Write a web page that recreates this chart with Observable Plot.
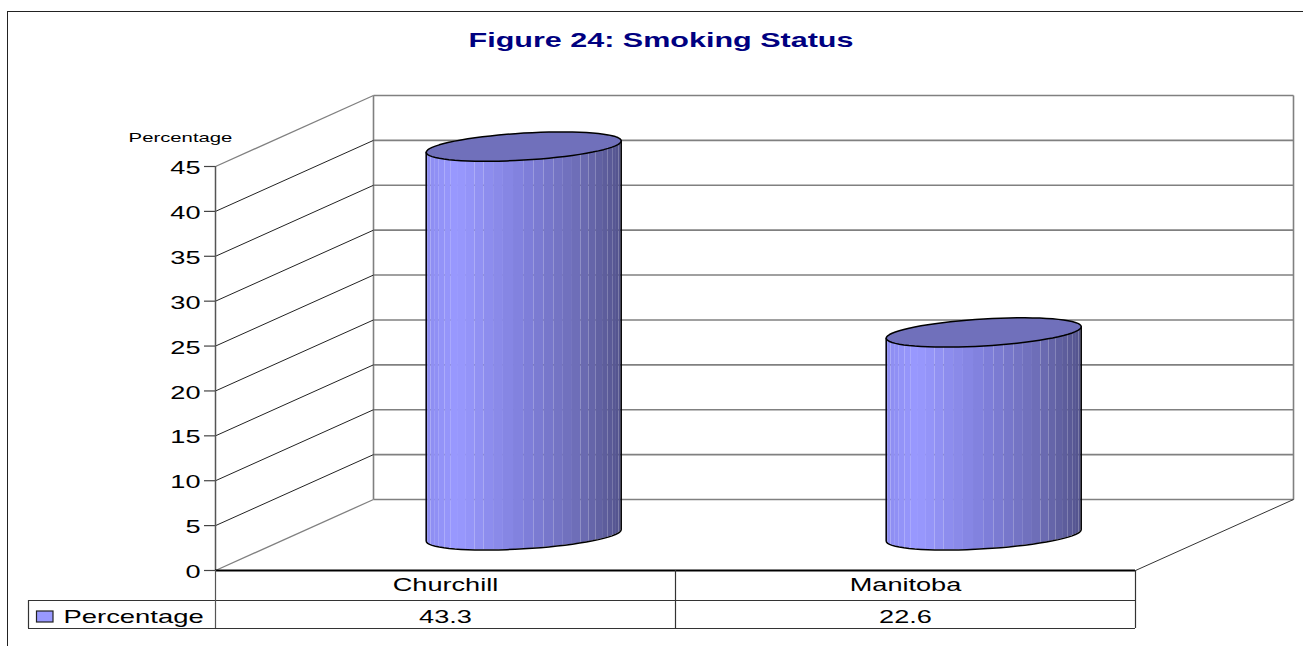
<!DOCTYPE html>
<html>
<head>
<meta charset="utf-8">
<script src="https://cdn.jsdelivr.net/npm/d3@7"></script>
<script src="https://cdn.jsdelivr.net/npm/@observablehq/plot@0.6"></script>
<style>
  html, body { margin: 0; padding: 0; background: #fff; overflow: hidden; }
  #chart { position: relative; width: 1303px; height: 646px; }
  #chart svg { position: absolute; left: 0; top: 0; overflow: visible; }
  #border { position: absolute; left: 7px; top: 11px; right: 0; bottom: 0; border-left: 1.5px solid #222; border-top: 1.5px solid #222; }
</style>
</head>
<body>
<div id="chart"><div id="border"></div></div>
<script>
// ---- data ----
const categories = ["Churchill", "Manitoba"];
const percentages = [43.3, 22.6];
const seriesName = "Percentage";
const chartTitle = "Figure 24: Smoking Status";
const yTicks = [0, 5, 10, 15, 20, 25, 30, 35, 40, 45];

// ---- 3D projection: depth 0 = front plane, 1 = back wall (in scale units) ----
const pxPerCat = 460, pxPerUnit = 404 / 45;
const depthX = 158 / pxPerCat, depthY = 71 / pxPerUnit;
const ox = (c, d) => c + d * depthX;
const oy = (v, d) => v + d * depthY;
const layoutX = p => (p - 215) / pxPerCat;   // page furniture only
const layoutY = p => (570 - p) / pxPerUnit;

// ---- cylinders ----
const radiusX = 97.5 / pxPerCat, shearY = 5.75 / pxPerUnit, radiusY = 13.5 / pxPerUnit;
const midDepth = 0.495;
const nStrips = 30;
const shade = d3.scaleLinear()
  .domain([0, 0.16, 0.5, 0.8, 1])
  .range(["#8c8cf0", "#9999ff", "#8080dc", "#6c6cb4", "#53538c"]);
const strips = [], lids = [], outlines = [];
categories.forEach((name, i) => {
  const v = percentages[i];
  const cx = ox(i + 0.5, midDepth), base = oy(0, midDepth), top = oy(v, midDepth);
  const edge = (t, y, s) => ({ x: cx + radiusX * Math.cos(t), y: y + shearY * Math.cos(t) + s * radiusY * Math.sin(t) });
  for (let k = 0; k < nStrips; k++) {
    const a = Math.PI - Math.PI * k / nStrips, b = Math.PI - Math.PI * (k + 1) / nStrips;
    const fx = (Math.cos(a) + 1) / 2 * 0.5 + (Math.cos(b) + 1) / 2 * 0.5;
    const color = shade(fx);
    for (const t of [a, b]) {
      const low = edge(t, base, -1), up = edge(t, top, -1);
      strips.push({ id: name + k, x: low.x, y1: low.y, y2: up.y, color });
    }
  }
  for (let k = 0; k <= 72; k++) lids.push({ id: name, ...edge(2 * Math.PI * k / 72, top, 1) });
  outlines.push({ id: name, ...edge(Math.PI, top, -1) });
  for (let k = 0; k <= 36; k++) outlines.push({ id: name, ...edge(Math.PI - Math.PI * k / 36, base, -1) });
  outlines.push({ id: name, ...edge(0, top, -1) });
});

const inner = yTicks.filter(d => d > 0 && d < 45);
const edges = yTicks.filter(d => d === 0 || d === 45);
const gray = "#808080";

const plot = Plot.plot({
  width: 1303, height: 646,
  marginLeft: 215, marginRight: 168, marginTop: 166, marginBottom: 76,
  style: { background: "transparent", fontFamily: "'Liberation Sans', Arial, sans-serif", color: "#000", overflow: "visible" },
  x: { domain: [0, 2], axis: null },
  y: { domain: [0, 45], axis: null },
  color: { type: "identity" },
  marks: [
    // back wall gridlines
    Plot.link(yTicks, { x1: ox(0, 1), x2: ox(2, 1), y1: d => oy(d, 1), y2: d => oy(d, 1), stroke: gray, strokeWidth: 1.6 }),
    Plot.link([0, 2], { x1: d => ox(d, 1), x2: d => ox(d, 1), y1: oy(0, 1), y2: oy(45, 1), stroke: gray, strokeWidth: 1.6 }),
    // side wall gridlines
    Plot.link(inner, { x1: ox(0, 0), y1: d => d, x2: ox(0, 1), y2: d => oy(d, 1), stroke: "#222", strokeWidth: 1 }),
    Plot.link(edges, { x1: ox(0, 0), y1: d => d, x2: ox(0, 1), y2: d => oy(d, 1), stroke: gray, strokeWidth: 1.3 }),
    // floor edge
    Plot.link([0], { x1: ox(2, 0), y1: 0, x2: ox(2, 1), y2: oy(0, 1), stroke: "#333", strokeWidth: 1 }),
    // cylinders
    Plot.area(strips, { x1: "x", x2: "x", y1: "y1", y2: "y2", z: "id", fill: "color", curve: "linear" }),
    Plot.line(outlines, { x: "x", y: "y", z: "id", stroke: "#000", strokeWidth: 1.5, curve: "linear" }),
    Plot.line(lids, { x: "x", y: "y", z: "id", fill: "#7070bb", stroke: "#000", strokeWidth: 1.5, curve: "linear" }),
    // y axis: tick marks, labels, line
    Plot.ruleY(yTicks, { x1: layoutX(204), x2: 0, stroke: "#444", strokeWidth: 1.2 }),
    Plot.axisY(yTicks, { anchor: "left", tickSize: 0, tickPadding: 15, fontSize: 17.5, dy: 2, label: null, tickFormat: d => d }),
    Plot.ruleX([0], { y1: 0, y2: 45, stroke: "#555", strokeWidth: 1.5 }),
    // data table
    Plot.ruleY([layoutY(600), layoutY(628)], { x1: layoutX(28), x2: 2, stroke: "#333", strokeWidth: 1.2 }),
    Plot.ruleY([0], { x1: 0, x2: 2, stroke: "#000", strokeWidth: 1.8 }),
    Plot.ruleX([0], { y1: 0, y2: layoutY(628), stroke: "#555", strokeWidth: 1.2 }),
    Plot.ruleX([1, 2], { y1: 0, y2: layoutY(628), stroke: "#333", strokeWidth: 1.2 }),
    Plot.ruleX([layoutX(28)], { y1: layoutY(600), y2: layoutY(628), stroke: "#333", strokeWidth: 1.2 }),
    Plot.axisX([0.5, 1.5], { anchor: "bottom", tickSize: 0, tickPadding: 8, fontSize: 17.5, label: null, tickFormat: d => categories[Math.floor(d)] }),
    Plot.text(percentages, { x: (d, i) => i + 0.5, y: layoutY(617), text: d => d.toFixed(1), fontSize: 17.5, fill: "#000" }),
    // legend key inside the table
    Plot.rect([seriesName], { x1: layoutX(36.5), x2: layoutX(53), y1: layoutY(611), y2: layoutY(622), fill: "#9999ff", stroke: "#222", strokeWidth: 1.2 }),
    Plot.text([seriesName], { x: layoutX(63), y: layoutY(617), text: d => d, textAnchor: "start", fontSize: 17.7, fill: "#000" }),
    // axis title and chart title
    Plot.text([seriesName], { x: layoutX(180), y: layoutY(137.5), text: d => d, fontSize: 13.1, fill: "#000" }),
    Plot.text([chartTitle], { x: layoutX(660.5), y: layoutY(40.5), text: d => d, fontSize: 19.7, fontWeight: "bold", fill: "#000080" })
  ]
});
document.getElementById("chart").appendChild(plot);

// the reference's text is horizontally stretched
plot.querySelectorAll("text").forEach(t => {
  const w = t.getComputedTextLength();
  if (w > 0) {
    t.setAttribute("textLength", (w * 1.55).toFixed(1));
    t.setAttribute("lengthAdjust", "spacingAndGlyphs");
  }
});
</script>
</body>
</html>
